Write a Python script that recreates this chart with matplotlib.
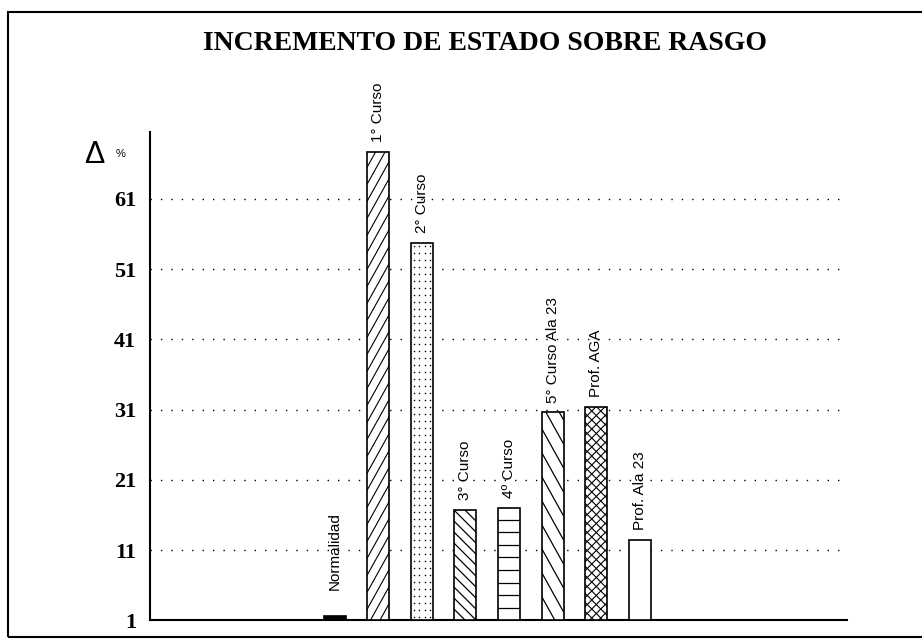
import matplotlib
matplotlib.use('Agg')
import matplotlib.pyplot as plt
from matplotlib.patches import Rectangle
from matplotlib.transforms import IdentityTransform
import numpy as np

# datos
labels = ['Normalidad', '1° Curso', '2° Curso', '3° Curso', '4º Curso',
          '5° Curso Ala 23', 'Prof. AGA', 'Prof. Ala 23']
values = [1.7, 67.7, 54.7, 16.7, 17.0, 30.6, 31.4, 12.5]
positions = [4, 5, 6, 7, 8, 9, 10, 11]
yticks = [1, 11, 21, 31, 41, 51, 61]

# relleno de cada barra
patterns = ['solid', 'steep_fwd', 'dots', 'back', 'horiz', 'steep_back', 'cross', 'none']


def lines_in_bar(ax, bar, slope, spacing, horizontal=False, lw=0.9):
    # dibuja rayas recortadas a la barra, en pixeles
    (x0, y0), (x1, y1) = ax.transData.transform([(bar.get_x(), bar.get_y()),
                                                 (bar.get_x() + bar.get_width(),
                                                  bar.get_y() + bar.get_height())])
    w = x1 - x0
    if horizontal:
        ys = np.arange(y0 + spacing, y1, spacing)
        for y in ys:
            ln, = ax.plot([x0, x1], [y, y], color='black', lw=lw,
                          transform=IdentityTransform(), zorder=4)
            ln.set_clip_path(bar)
        return
    rise = slope * w
    start = y0 - abs(rise) - spacing
    for k in np.arange(start, y1 + abs(rise) + spacing, spacing):
        if slope > 0:
            xs, ys = [x0, x1], [k, k + rise]
        else:
            xs, ys = [x0, x1], [k - rise, k]
        ln, = ax.plot(xs, ys, color='black', lw=lw,
                      transform=IdentityTransform(), zorder=4)
        ln.set_clip_path(bar)


def dots_in_bar(ax, bar, dx, dy):
    (x0, y0), (x1, y1) = ax.transData.transform([(bar.get_x(), bar.get_y()),
                                                 (bar.get_x() + bar.get_width(),
                                                  bar.get_y() + bar.get_height())])
    gx, gy = np.meshgrid(np.arange(x0 + dx / 2, x1, dx), np.arange(y0 + dy / 2, y1, dy))
    pts, = ax.plot(gx.ravel(), gy.ravel(), ls='none', marker='s', ms=1.0,
                   color='black', mew=0, transform=IdentityTransform(), zorder=4)
    pts.set_clip_path(bar)


fig = plt.figure(figsize=(9.22, 6.4), dpi=100)
ax = fig.add_axes([0.1627, 0.0305, 0.756, 0.7633])

ax.set_xlim(-0.232, 15.75)
ax.set_ylim(1, 70.5)

bars = ax.bar(positions, [v - 1 for v in values], bottom=1, width=0.505,
              color='white', edgecolor='black', linewidth=1.2, zorder=3)

for b, p in zip(bars, patterns):
    if p == 'solid':
        b.set_facecolor('black')
    elif p == 'steep_fwd':
        lines_in_bar(ax, b, 1.8, 17, lw=0.8)
    elif p == 'dots':
        dots_in_bar(ax, b, 5.5, 7.0)
    elif p == 'back':
        lines_in_bar(ax, b, -1.0, 11)
    elif p == 'horiz':
        lines_in_bar(ax, b, 0, 12.6, horizontal=True)
    elif p == 'steep_back':
        lines_in_bar(ax, b, -1.8, 24)
    elif p == 'cross':
        lines_in_bar(ax, b, 1.0, 9, lw=0.8)
        lines_in_bar(ax, b, -1.0, 9, lw=0.8)

for x, v, lab in zip(positions, values, labels):
    ax.annotate(lab, (x, max(v, 4.0)), xytext=(0, 7), textcoords='offset points',
                rotation=90, ha='center', va='bottom', fontsize=11,
                family='Liberation Sans', zorder=5)

# lineas de rejilla punteadas
for y in yticks[1:]:
    ax.axhline(y, color='black', lw=1.0, ls=(0, (1, 6.5)), zorder=1)

ax.set_yticks(yticks)
ax.set_yticklabels([str(t) for t in yticks], family='Liberation Serif',
                   fontweight='bold', fontsize=16)
ax.tick_params(axis='y', length=0, pad=10)
ax.set_xticks([])
for s in ['top', 'right']:
    ax.spines[s].set_visible(False)
for s in ['left', 'bottom']:
    ax.spines[s].set_linewidth(1.5)

fig.text(94.5 / 922, 1 - 163 / 640, 'Δ', fontsize=22, family='Liberation Sans',
         ha='center', va='baseline')
fig.text(121 / 922, 1 - 154 / 640, '%', fontsize=8, family='Liberation Sans',
         ha='center', va='center')

fig.text(485 / 922, 1 - 43 / 640, 'INCREMENTO DE ESTADO SOBRE RASGO',
         fontsize=20, family='Liberation Serif', fontweight='bold',
         ha='center', va='center')

# marco exterior
fig.patches.append(Rectangle((8 / 922, 3 / 640), 1.2, 1 - 15 / 640,
                             transform=fig.transFigure, fill=False,
                             edgecolor='black', linewidth=1.5))

fig.savefig('out.png', dpi=100)
